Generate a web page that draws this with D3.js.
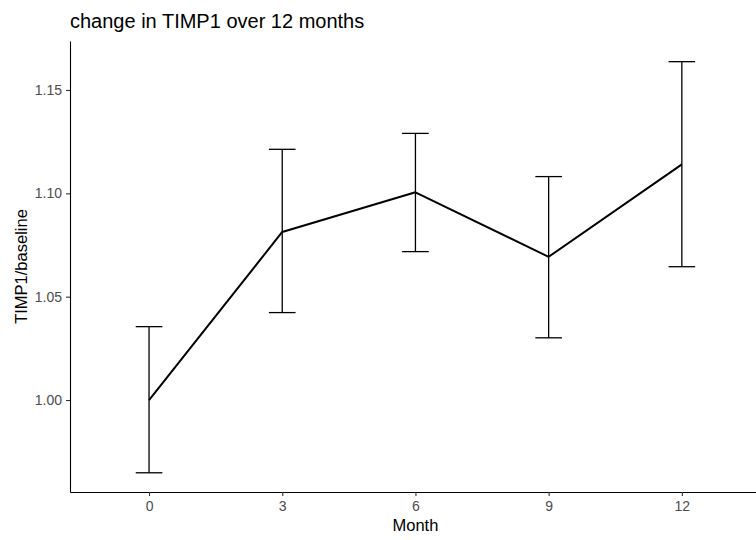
<!DOCTYPE html>
<html>
<head>
<meta charset="utf-8">
<script src="https://cdn.jsdelivr.net/npm/d3@7"></script>
<style>
  body { margin: 0; background: #fff; }
  svg text { font-family: "Liberation Sans", Arial, sans-serif; }
</style>
</head>
<body>
<div id="chart"></div>
<script>
// values
const months = [0, 3, 6, 9, 12];
const ratio  = [1.000, 1.0813, 1.1005, 1.0693, 1.1140];
const lower  = [0.9648, 1.0423, 1.0718, 1.0301, 1.0645];
const upper  = [1.0355, 1.1213, 1.1290, 1.1081, 1.1637];
const yTicks = [1.00, 1.05, 1.10, 1.15];

const width = 756, height = 540;
const margin = {top: 41, right: 0, bottom: 48, left: 70};

const data = months.map((m, i) => ({x: m, y: ratio[i], lo: lower[i], hi: upper[i]}));

const svg = d3.select("#chart").append("svg")
    .attr("width", width)
    .attr("height", height);

// x: 0 sits at 149px and 12 at 681px, panel runs from 70px to the window edge
const xScale = d3.scaleLinear()
    .domain([-1.78, 13.67])
    .range([margin.left, width - margin.right]);

const yScale = d3.scaleLinear()
    .domain([0.9555, 1.1737])
    .range([height - margin.bottom, margin.top]);

// axes
const xAxis = d3.axisBottom(xScale).tickValues(months)
    .tickSizeInner(4).tickSizeOuter(0).tickPadding(5)
    .tickFormat(d3.format("d"));
const yAxis = d3.axisLeft(yScale).tickValues(yTicks)
    .tickSizeInner(4).tickSizeOuter(0).tickPadding(4)
    .tickFormat(d3.format(".2f"));

const gx = svg.append("g")
    .attr("transform", "translate(0," + (height - margin.bottom) + ")")
    .call(xAxis);
const gy = svg.append("g")
    .attr("transform", "translate(" + margin.left + ",0)")
    .call(yAxis);

[gx, gy].forEach(g => {
    g.select(".domain").attr("stroke", "#000").attr("stroke-width", 1.1);
    g.selectAll(".tick line").attr("stroke", "#333").attr("stroke-width", 1.1);
    g.selectAll(".tick text").attr("fill", "#4d4d4d").style("font-size", "14px");
});

// error bars
const capHalf = 0.3;
const bars = svg.append("g").attr("stroke", "#000").attr("stroke-width", 1.3).attr("fill", "none");
bars.selectAll(".vert").data(data).enter().append("line")
    .attr("x1", d => xScale(d.x)).attr("x2", d => xScale(d.x))
    .attr("y1", d => yScale(d.lo)).attr("y2", d => yScale(d.hi));
bars.selectAll(".capTop").data(data).enter().append("line")
    .attr("x1", d => xScale(d.x - capHalf)).attr("x2", d => xScale(d.x + capHalf))
    .attr("y1", d => yScale(d.hi)).attr("y2", d => yScale(d.hi));
bars.selectAll(".capBot").data(data).enter().append("line")
    .attr("x1", d => xScale(d.x - capHalf)).attr("x2", d => xScale(d.x + capHalf))
    .attr("y1", d => yScale(d.lo)).attr("y2", d => yScale(d.lo));

// mean line
const line = d3.line().x(d => xScale(d.x)).y(d => yScale(d.y));
svg.append("path")
    .datum(data)
    .attr("fill", "none")
    .attr("stroke", "#000")
    .attr("stroke-width", 2)
    .attr("stroke-linejoin", "round")
    .attr("d", line);

// titles
svg.append("text")
    .attr("x", 70).attr("y", 28)
    .style("font-size", "20px")
    .attr("fill", "#000")
    .text("change in TIMP1 over 12 months");

svg.append("text")
    .attr("x", xScale(6)).attr("y", 531)
    .attr("text-anchor", "middle")
    .style("font-size", "16.5px")
    .attr("fill", "#000")
    .text("Month");

svg.append("text")
    .attr("transform", "translate(27," + ((margin.top + height - margin.bottom) / 2) + ") rotate(-90)")
    .attr("text-anchor", "middle")
    .style("font-size", "16.5px")
    .attr("fill", "#000")
    .text("TIMP1/baseline");
</script>
</body>
</html>
